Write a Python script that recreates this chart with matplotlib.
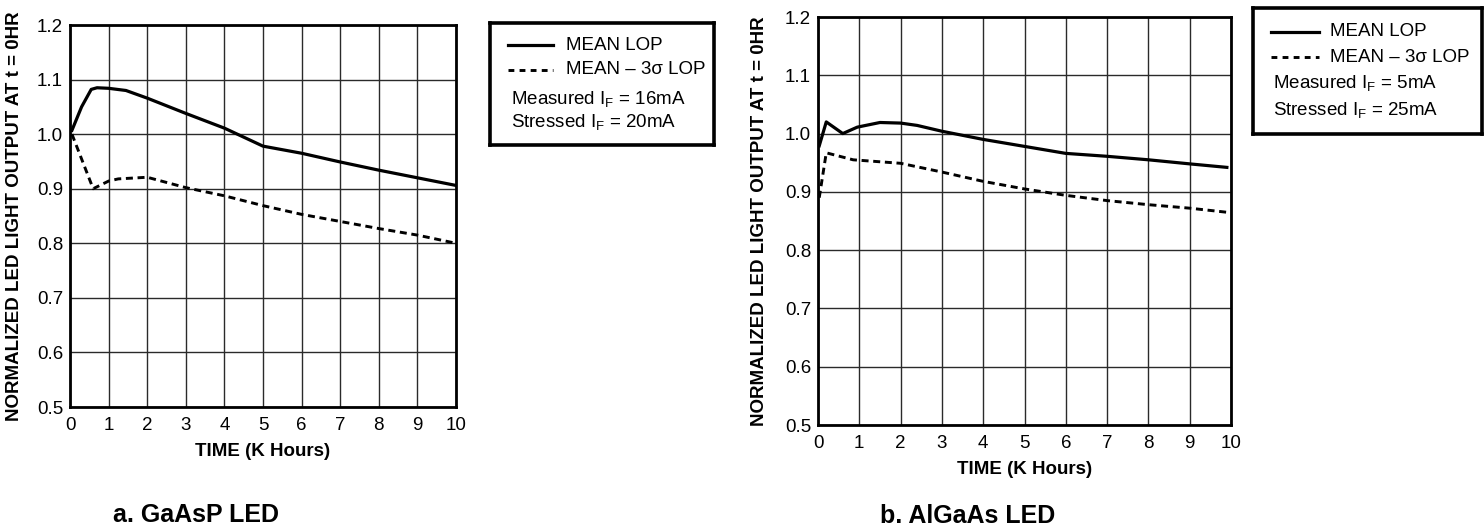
import matplotlib
matplotlib.use("Agg")
import matplotlib.pyplot as plt

plt.rcParams['font.family'] = ['Liberation Sans', 'DejaVu Sans']
plt.rcParams['mathtext.fontset'] = 'custom'
plt.rcParams['mathtext.rm'] = 'Liberation Sans'
plt.rcParams['mathtext.it'] = 'Liberation Sans:italic'
plt.rcParams['mathtext.bf'] = 'Liberation Sans:bold'

# ---- data ----
# a. GaAsP LED
t_mean_a = [0.05, 0.3, 0.55, 0.7, 1.0, 1.45, 2, 3, 4, 5, 6, 7, 8, 9, 10]
mean_a = [1.007, 1.05, 1.082, 1.085, 1.084, 1.08, 1.066, 1.038, 1.011, 0.978, 0.965, 0.949, 0.934, 0.92, 0.906]
t_low_a = [0.05, 0.6, 1.0, 1.25, 2, 3, 4, 5, 6, 7, 8, 9, 10]
low_a = [1.0, 0.9, 0.914, 0.918, 0.921, 0.902, 0.887, 0.869, 0.853, 0.84, 0.827, 0.815, 0.8]

# b. AlGaAs LED
t_mean_b = [0.03, 0.2, 0.6, 0.95, 1.5, 2.0, 2.4, 3, 4, 5, 6, 7, 8, 9, 9.9]
mean_b = [0.979, 1.02, 1.0, 1.011, 1.019, 1.018, 1.014, 1.004, 0.99, 0.978, 0.966, 0.961, 0.955, 0.948, 0.942]
t_low_b = [0.03, 0.2, 0.85, 2, 3, 4, 5, 6, 7, 8, 9, 9.9]
low_b = [0.89, 0.967, 0.955, 0.949, 0.934, 0.918, 0.905, 0.894, 0.885, 0.878, 0.872, 0.865]

x_ticks = list(range(0, 11))
y_ticks = [0.5, 0.6, 0.7, 0.8, 0.9, 1.0, 1.1, 1.2]
series_names = ['MEAN LOP', 'MEAN \u2013 3\u03c3 LOP']
titles = ['a. GaAsP LED', 'b. AlGaAs LED']
notes_a = [r'Measured I$_{\mathrm{F}}$ = 16mA', r'Stressed I$_{\mathrm{F}}$ = 20mA']
notes_b = [r'Measured I$_{\mathrm{F}}$ = 5mA', r'Stressed I$_{\mathrm{F}}$ = 25mA']

W, H = 1484, 529
fig = plt.figure(figsize=(W / 100, H / 100), dpi=100)


def rect(x0, y0, x1, y1):
    # pixel box (top-left origin) -> figure fraction
    return [x0 / W, 1 - y1 / H, (x1 - x0) / W, (y1 - y0) / H]


DASH = (0, (2.4, 1.6))


def make_panel(box, tm, m, tl, l, title, title_xy, lab_x):
    ax = fig.add_axes(rect(*box))
    ax.plot(tm, m, color='black', lw=2.3, solid_joinstyle='round', zorder=3)
    ax.plot(tl, l, color='black', lw=2.1, linestyle=DASH, zorder=3)
    ax.set_xlim(0, 10)
    ax.set_ylim(0.5, 1.2)
    ax.set_xticks(x_ticks)
    ax.set_yticks(y_ticks)
    ax.set_yticklabels([f'{v:.1f}' for v in y_ticks])
    ax.tick_params(length=0, labelsize=13.5, pad=7)
    ax.tick_params(axis='y', pad=5)
    ax.grid(True, color='#2a2a2a', lw=1.0)
    for s in ax.spines.values():
        s.set_linewidth(2.0)
    ax.set_xlabel('TIME (K Hours)', fontsize=13.5, fontweight='bold', labelpad=7)
    ax.set_ylabel('NORMALIZED LED LIGHT OUTPUT AT t = 0HR', fontsize=13.5,
                  fontweight='bold')
    ax.yaxis.set_label_coords(lab_x, 0.5)
    fig.text(title_xy[0] / W, 1 - title_xy[1] / H, title, fontsize=18,
             fontweight='bold', ha='center', va='center')
    return ax


def make_key(box, line_x0, line_x1, text_x, y_rows, note_x, note_rows, notes):
    kx = fig.add_axes(rect(*box))
    kx.set_xlim(box[0], box[2])
    kx.set_ylim(box[3], box[1])
    kx.set_xticks([])
    kx.set_yticks([])
    for s in kx.spines.values():
        s.set_linewidth(2.6)
    kx.plot([line_x0, line_x1], [y_rows[0]] * 2, color='black', lw=2.3)
    kx.plot([line_x0, line_x1], [y_rows[1]] * 2, color='black', lw=2.1,
            linestyle=(0, (2.0, 1.8)))
    for name, y in zip(series_names, y_rows):
        kx.text(text_x, y, name, fontsize=13.5, va='center', ha='left')
    for note, y in zip(notes, note_rows):
        kx.text(note_x, y, note, fontsize=13.5, va='center', ha='left')


make_panel((70, 25, 456, 407), t_mean_a, mean_a, t_low_a, low_a,
           titles[0], (196, 515), -0.122)
make_panel((818, 17, 1231, 425), t_mean_b, mean_b, t_low_b, low_b,
           titles[1], (968, 516), -0.121)

make_key((490, 23, 714, 145), 508, 553, 566, (45, 70), 511, (99, 122), notes_a)
make_key((1253, 8, 1482, 134), 1271, 1319, 1330, (32, 57), 1273, (83, 110), notes_b)

fig.savefig('out.png', dpi=100)
